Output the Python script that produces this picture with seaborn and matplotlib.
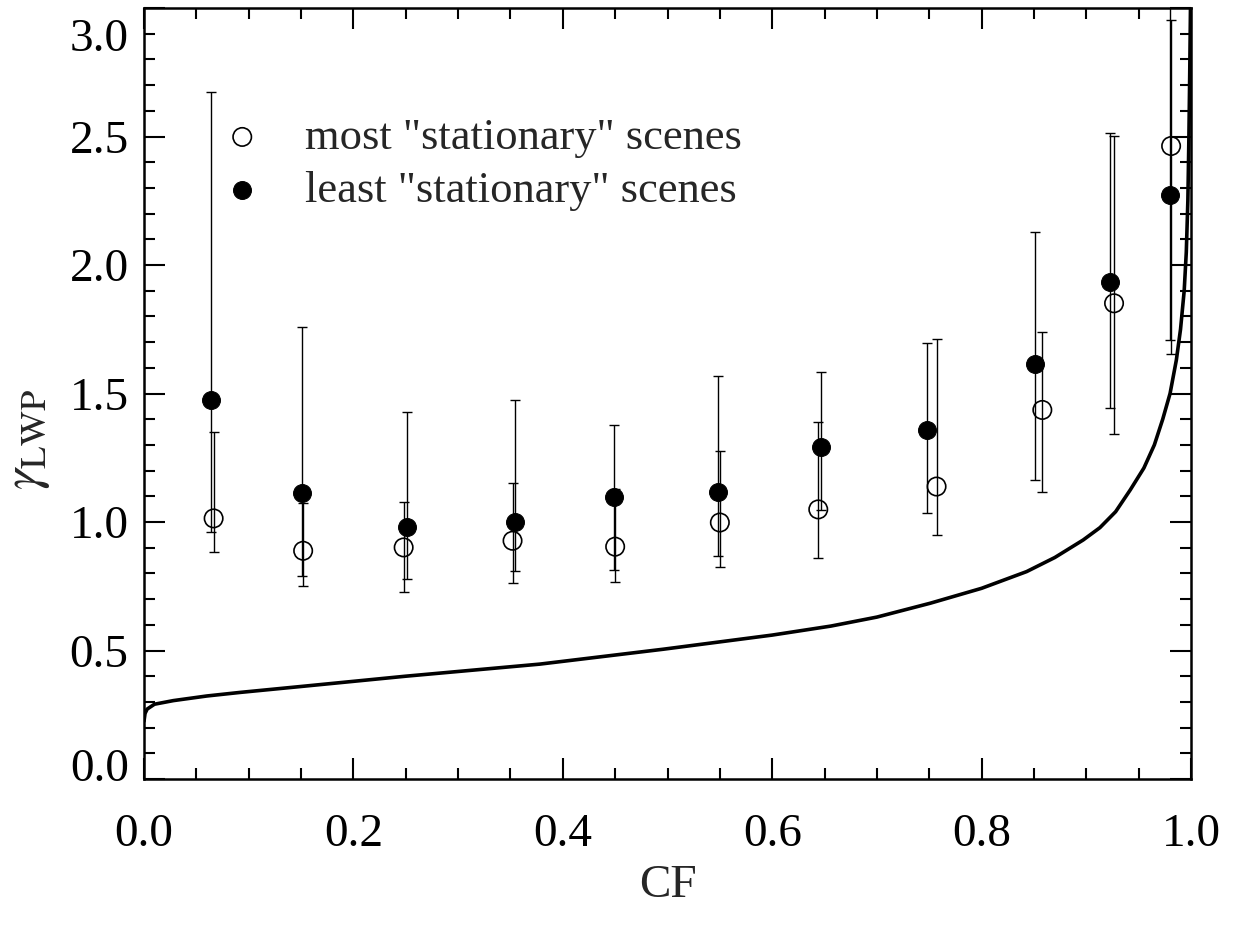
import numpy as np
import pandas as pd
import matplotlib
matplotlib.use("Agg")
import matplotlib.pyplot as plt
from matplotlib.transforms import ScaledTranslation
from matplotlib.ticker import MultipleLocator
import seaborn as sns

# ---- data ----
# least "stationary" scenes (filled)
least_cf = [0.064, 0.151, 0.251, 0.354, 0.449, 0.548, 0.647, 0.748, 0.851, 0.9226, 0.980]
least_gamma = [1.476, 1.114, 0.982, 1.001, 1.097, 1.117, 1.291, 1.358, 1.614, 1.935, 2.272]
least_lo = [0.962, 0.790, 0.777, 0.811, 0.815, 0.869, 1.047, 1.034, 1.163, 1.442, 1.708]
least_hi = [2.673, 1.760, 1.429, 1.475, 1.379, 1.568, 1.585, 1.697, 2.129, 2.512, 3.100]

# most "stationary" scenes (open)
most_cf = [0.0665, 0.152, 0.248, 0.352, 0.450, 0.550, 0.644, 0.757, 0.858, 0.9265, 0.981]
most_gamma = [1.014, 0.888, 0.901, 0.927, 0.904, 0.998, 1.049, 1.138, 1.436, 1.851, 2.463]
most_lo = [0.883, 0.752, 0.729, 0.764, 0.768, 0.826, 0.859, 0.949, 1.118, 1.342, 1.654]
most_hi = [1.349, 1.075, 1.079, 1.150, 1.127, 1.278, 1.390, 1.714, 1.741, 2.502, 2.953]

# theoretical curve
curve_cf = [0.0, 0.001, 0.003, 0.010, 0.028, 0.060, 0.092, 0.150, 0.250, 0.378,
            0.496, 0.600, 0.656, 0.700, 0.751, 0.800, 0.843, 0.870, 0.897, 0.913,
            0.928, 0.942, 0.955, 0.965, 0.973, 0.980, 0.986, 0.990, 0.9935, 0.9955,
            0.997, 0.998, 0.9988, 0.9995]
curve_gamma = [0.225, 0.255, 0.272, 0.291, 0.305, 0.323, 0.337, 0.360, 0.400, 0.447,
               0.505, 0.560, 0.595, 0.630, 0.684, 0.742, 0.807, 0.862, 0.930, 0.978,
               1.040, 1.125, 1.210, 1.300, 1.400, 1.500, 1.630, 1.750, 1.900, 2.050,
               2.250, 2.500, 2.750, 3.000]

legend_labels = ['most "stationary" scenes', 'least "stationary" scenes']
x_ticks = [0.0, 0.2, 0.4, 0.6, 0.8, 1.0]
y_ticks = [0.0, 0.5, 1.0, 1.5, 2.0, 2.5, 3.0]

# ---- style ----
sns.set_theme(style="ticks")
plt.rcParams["font.family"] = ["Liberation Serif", "DejaVu Serif"]
plt.rcParams["mathtext.fontset"] = "stix"

FS = 34
LFS = 32
fig = plt.figure(figsize=(12.34, 9.25), dpi=100)
ax = fig.add_axes([144 / 1234, 1 - 779 / 925, (1191 - 144) / 1234, (779 - 8) / 925])

least = pd.DataFrame({"cf": least_cf, "g": least_gamma, "lo": least_lo, "hi": least_hi})
most = pd.DataFrame({"cf": most_cf, "g": most_gamma, "lo": most_lo, "hi": most_hi})
curve = pd.DataFrame({"cf": curve_cf, "g": curve_gamma})

# error bars
for df in (least, most):
    ax.errorbar(df["cf"], df["g"], yerr=[df["g"] - df["lo"], df["hi"] - df["g"]],
                fmt="none", ecolor="black", elinewidth=1.0, capsize=3.8,
                capthick=1.0, zorder=2)

sns.lineplot(data=curve, x="cf", y="g", ax=ax, color="black", linewidth=2.6,
             sort=False, estimator=None, zorder=3)

sns.scatterplot(data=most, x="cf", y="g", ax=ax, s=175, marker="o",
                facecolors="none", edgecolor="black", linewidth=1.2,
                label=legend_labels[0], zorder=4)
sns.scatterplot(data=least, x="cf", y="g", ax=ax, s=165, marker="o",
                color="black", edgecolor="black", linewidth=0.8,
                label=legend_labels[1], zorder=4)

ax.set_xlim(0, 1.0)
ax.set_ylim(0, 3.0)
ax.set_xticks(x_ticks)
ax.set_xticklabels([f"{v:.1f}" for v in x_ticks])
ax.set_yticks(y_ticks)
ax.set_yticklabels([f"{v:.1f}" for v in y_ticks])
ax.xaxis.set_minor_locator(MultipleLocator(0.05))
ax.yaxis.set_minor_locator(MultipleLocator(0.1))
ax.tick_params(which="both", direction="in", top=True, right=True, colors="black",
               width=1.5)
ax.tick_params(which="major", length=15)
ax.tick_params(which="minor", length=8)
ax.tick_params(axis="x", which="major", pad=25, labelsize=FS)
ax.tick_params(axis="y", which="major", pad=11, labelsize=FS)
for sp in ax.spines.values():
    sp.set_linewidth(1.8)
    sp.set_color("black")

ax.set_xlabel("CF", fontsize=FS, labelpad=6)
ax.set_ylabel(r"$\gamma_{\rm LWP}$", fontsize=FS + 4)
ax.yaxis.set_label_coords(-0.088, 0.44)

# IDL-like inward shift of the end labels
ylabs = ax.get_yticklabels()
ylabs[0].set_transform(ylabs[0].get_transform() + ScaledTranslation(0, 14 / 100, fig.dpi_scale_trans))
ylabs[-1].set_transform(ylabs[-1].get_transform() + ScaledTranslation(0, -27 / 100, fig.dpi_scale_trans))

leg = ax.legend(loc="upper left", bbox_to_anchor=(0.0726, 0.858), frameon=False,
                fontsize=LFS, handlelength=1.0, handletextpad=0.91,
                labelspacing=0.29, borderpad=0, borderaxespad=0)

fig.savefig("out.png", dpi=100)
